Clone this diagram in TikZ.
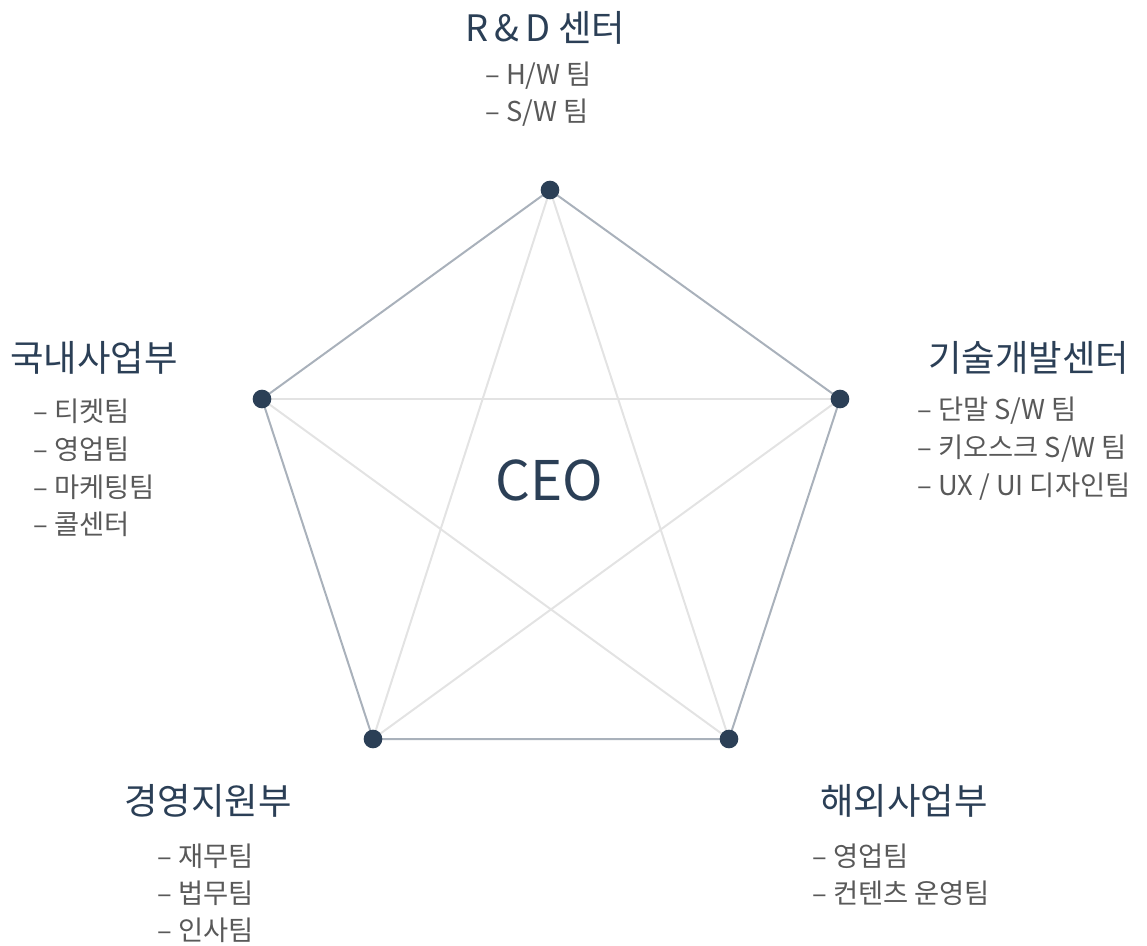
\documentclass[tikz,border=0pt]{standalone}
\usepackage{fontspec}
\setmainfont{Noto Sans CJK KR}
\usetikzlibrary{backgrounds}
\definecolor{navy}{HTML}{2B3F56}
\definecolor{itemgray}{HTML}{595959}
\definecolor{outerline}{HTML}{A9B1BB}
\definecolor{innerline}{HTML}{E3E3E3}
\tikzset{
  dot/.style={circle,fill=navy,inner sep=0pt,minimum size=14pt},
  outer/.style={draw=outerline,line width=1.5pt},
  inner/.style={draw=innerline,line width=1.5pt},
  title/.style={text=navy,font=\fontsize{27.3}{31}\selectfont,inner sep=0pt},
  item/.style={text=itemgray,font=\fontsize{20.5}{24}\selectfont,inner sep=0pt,anchor=west},
  ceo/.style={text=navy,font=\fontsize{41}{47}\selectfont,inner sep=0pt}
}
\begin{document}
\begin{tikzpicture}[x=0.75pt,y=-0.75pt]
\useasboundingbox (0,0) rectangle (1147,946);
\node[dot] (v1) at (550,190) {};
\node[dot] (v2) at (840,399) {};
\node[dot] (v3) at (729,739) {};
\node[dot] (v4) at (373,739) {};
\node[dot] (v5) at (262,399) {};
\begin{pgfonlayer}{background}
\draw[inner] (v1.center) -- (v3.center);
\draw[inner] (v1.center) -- (v4.center);
\draw[inner] (v2.center) -- (v4.center);
\draw[inner] (v2.center) -- (v5.center);
\draw[inner] (v3.center) -- (v5.center);
\draw[outer] (v1.center) -- (v2.center) -- (v3.center) -- (v4.center) -- (v5.center) -- cycle;
\end{pgfonlayer}
\node[ceo] (ceo) at (549,480) {CEO};
% R&D
\node[title,anchor=west] (t1) at (465,28) {R\,\&\,D 센터};
\node[item] (t1a) at (485,76) {– H/W 팀};
\node[item] (t1b) at (485,113) {– S/W 팀};
% 국내사업부
\node[title,anchor=west] (t5) at (10,358) {국내사업부};
\node[item] (t5a) at (33,411) {– 티켓팀};
\node[item] (t5b) at (33,449) {– 영업팀};
\node[item] (t5c) at (33,487) {– 마케팅팀};
\node[item] (t5d) at (33,524) {– 콜센터};
% 기술개발센터
\node[title,anchor=west] (t2) at (928,358) {기술개발센터};
\node[item] (t2a) at (917,411) {– 단말 S/W 팀};
\node[item] (t2b) at (917,449) {– 키오스크 S/W 팀};
\node[item] (t2c) at (917,487) {– UX / UI 디자인팀};
% 경영지원부
\node[title,anchor=west] (t4) at (124,801) {경영지원부};
\node[item] (t4a) at (157,856) {– 재무팀};
\node[item] (t4b) at (157,893) {– 법무팀};
\node[item] (t4c) at (157,930) {– 인사팀};
% 해외사업부
\node[title,anchor=west] (t3) at (820,801) {해외사업부};
\node[item] (t3a) at (812,856) {– 영업팀};
\node[item] (t3b) at (812,893) {– 컨텐츠 운영팀};
\end{tikzpicture}
\end{document}
